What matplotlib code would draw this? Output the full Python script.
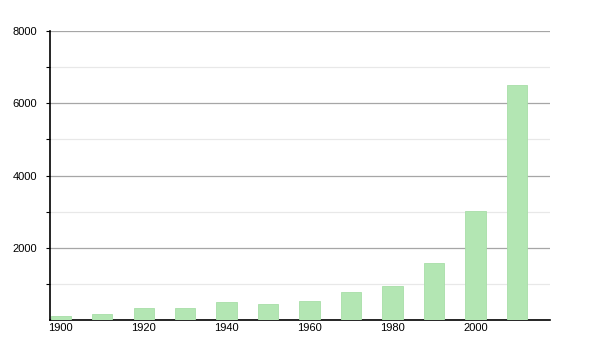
import matplotlib.pyplot as plt

years = [1900, 1910, 1920, 1930, 1940, 1950, 1960, 1970, 1980, 1990, 2000, 2010]
population = [115, 175, 340, 335, 505, 455, 525, 775, 950, 1590, 3020, 6500]
x_ticks = [1900, 1920, 1940, 1960, 1980, 2000]
y_ticks = [2000, 4000, 6000, 8000]
y_minor = [1000, 3000, 5000, 7000]

plt.rcParams["font.family"] = ["Liberation Sans", "DejaVu Sans"]

fig = plt.figure(figsize=(6, 3.5), dpi=100)
ax = fig.add_axes([0.0833, 0.0857, 0.8334, 0.8257])

ax.bar(years, population, width=4.9, color="#b3e6b3", edgecolor="#a8dea8",
       linewidth=0.6, zorder=3)

ax.set_xlim(1897.4, 2018)
ax.set_ylim(0, 8000)
ax.set_xticks(x_ticks)
ax.set_yticks(y_ticks)
ax.set_yticks(y_minor, minor=True)
ax.grid(axis="y", which="major", color="#a6a6a6", linewidth=0.9, zorder=1)
ax.grid(axis="y", which="minor", color="#e8e8e8", linewidth=0.9, zorder=1)

for side in ("top", "right"):
    ax.spines[side].set_visible(False)
for side in ("left", "bottom"):
    ax.spines[side].set_color("black")
    ax.spines[side].set_linewidth(1.2)

ax.tick_params(axis="x", length=0, labelsize=8, pad=2)
ax.tick_params(axis="y", which="both", length=3, width=0.8, labelsize=8,
               direction="out", pad=6)

fig.savefig("out.png", dpi=100)
